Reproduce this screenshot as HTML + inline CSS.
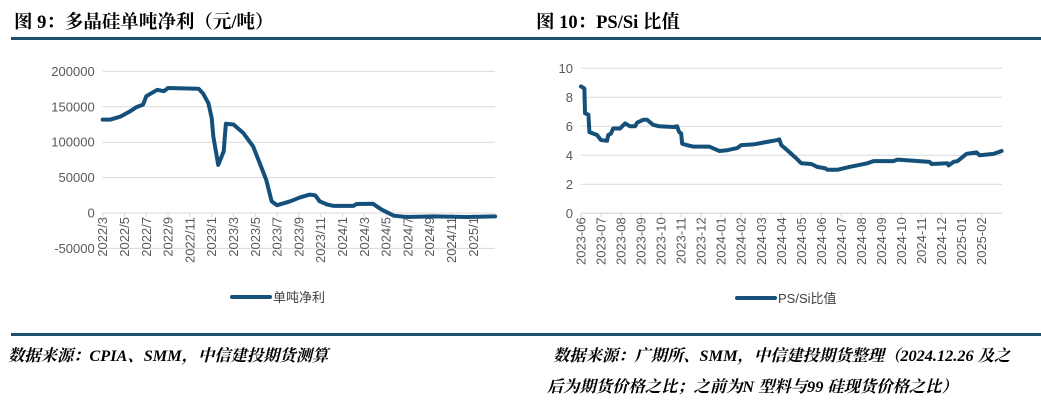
<!DOCTYPE html>
<html><head><meta charset="utf-8"><style>
body{margin:0;width:1041px;height:401px;background:#fff;overflow:hidden;position:relative;font-family:"Liberation Serif","Noto Serif CJK SC",serif}
.t{position:absolute;font-weight:bold;font-size:18.5px;color:#000;top:8px;white-space:nowrap}
.f{position:absolute;font-weight:bold;font-style:italic;font-size:16.3px;color:#000;white-space:nowrap}
.rule{position:absolute;left:11px;width:1030px;height:3px;background:#1d4f6c}
svg{position:absolute;left:0;top:0}
</style></head><body>
<div class="t" style="left:14px">图 9：多晶硅单吨净利（元/吨）</div>
<div class="t" style="left:536px">图 10：PS/Si 比值</div>
<div class="rule" style="top:37px"></div>
<div class="rule" style="top:333px"></div>
<div class="f" style="left:8px;top:342px">数据来源：CPIA、SMM，中信建投期货测算</div>
<div class="f" style="left:553px;top:342px">数据来源：广期所、SMM，中信建投期货整理（2024.12.26 及之</div>
<div class="f" style="left:547px;top:373px">后为期货价格之比；之前为N 型料与99 硅现货价格之比）</div>
<svg id="s" width="1041" height="401"></svg>
<script>
// Left chart data (month index from 2022/3)
const leftTicks=["2022/3","2022/5","2022/7","2022/9","2022/11","2023/1","2023/3","2023/5","2023/7","2023/9","2023/11","2024/1","2024/3","2024/5","2024/7","2024/9","2024/11","2025/1"];
const leftYTicks=[200000,150000,100000,50000,0,-50000];
const leftMonths=[0,0.67,1.6,2.5,3.1,3.7,4.0,5.0,5.6,6.0,8.8,9.2,9.7,10.0,10.15,10.6,11.1,11.3,12.0,12.9,13.8,14.4,15.0,15.5,16.0,17.2,18.1,19.0,19.5,19.9,20.6,21.2,23.0,23.3,24.8,25.6,26.7,27.9,30.3,33.4,36.0];
const leftValues=[131800,131800,136000,143500,149600,153000,165000,174000,172000,176500,175500,169000,155000,134000,108000,68000,87000,126000,125000,113000,94000,70600,47000,16500,11000,16500,22000,26000,25000,16500,12000,10000,10000,12700,13000,4700,-3800,-5600,-4700,-5600,-4700];
// Right chart data (month index from 2023-06)
const rightTicks=["2023-06","2023-07","2023-08","2023-09","2023-10","2023-11","2023-12","2024-01","2024-02","2024-03","2024-04","2024-05","2024-06","2024-07","2024-08","2024-09","2024-10","2024-11","2024-12","2025-01","2025-02"];
const rightYTicks=[10,8,6,4,2,0];
const rightMonths=[0,0.17,0.2,0.37,0.42,0.8,1.0,1.3,1.36,1.5,1.6,1.95,2.2,2.45,2.7,2.8,3.1,3.3,3.6,3.9,4.6,4.8,4.9,5.0,5.05,5.3,5.6,6.4,6.9,7.3,7.8,8.0,8.6,9.4,9.8,9.9,10.0,10.3,10.7,11.0,11.5,11.8,12.2,12.3,12.8,13.4,14.3,14.6,15.6,15.8,17.4,17.5,18.3,18.35,18.6,18.8,19.25,19.75,19.9,20.6,21.0];
const rightValues=[8.75,8.6,6.9,6.8,5.6,5.4,5.05,5.0,5.4,5.5,5.85,5.85,6.2,6.0,6.0,6.25,6.45,6.45,6.1,6.0,5.95,6.0,5.6,5.5,4.8,4.7,4.6,4.6,4.3,4.35,4.5,4.7,4.75,4.95,5.05,5.1,4.7,4.35,3.85,3.45,3.4,3.2,3.1,3.0,3.0,3.2,3.45,3.6,3.6,3.7,3.55,3.4,3.45,3.3,3.55,3.6,4.1,4.2,4.0,4.1,4.3];

const S=document.getElementById('s'),NS='http://www.w3.org/2000/svg';
function mk(t,a,txt){const e=document.createElementNS(NS,t);for(const k in a)e.setAttribute(k,a[k]);if(txt!==undefined)e.textContent=txt;S.appendChild(e);return e;}
function chart(o){
  const x=m=>o.x0+m*o.pxm, y=v=>o.y0+(o.ymax-v)*o.pxv;
  o.yTicks.forEach(v=>{
    const g=mk('line',{x1:o.x0,x2:o.x1,y1:y(v),y2:y(v),stroke:'#d9d9d9','stroke-width':1});
    
    
    const t=mk('text',{x:o.x0-8,y:y(v)+4.5,'text-anchor':'end','font-size':13,fill:'#595959','font-family':'Liberation Sans,sans-serif'},String(v));
    
    
  });
  const ax=mk('line',{x1:o.x0,x2:o.x1,y1:o.axisY,y2:o.axisY,stroke:'#d9d9d9','stroke-width':1});
  
  
  o.xTicks.forEach((l,i)=>{
    const xx=x(i*o.step);
    const tk=mk('line',{x1:xx,x2:xx,y1:o.axisY,y2:o.axisY+4,stroke:'#d9d9d9'});
    
    
    const t=mk('text',{transform:`translate(${xx+4.5},${o.axisY+4}) rotate(-90)`,'text-anchor':'end','font-size':13,fill:'#595959','font-family':'Liberation Sans,sans-serif'},l);
    
    
  });
  const p=mk('polyline',{points:o.m.map((m,i)=>x(m)+','+y(o.v[i])).join(' '),fill:'none',stroke:'#14507a','stroke-width':4,'stroke-linejoin':'round','stroke-linecap':'round'});
  
  
  const ll=mk('line',{x1:o.lx,x2:o.lx+38,y1:o.ly,y2:o.ly,stroke:'#14507a','stroke-width':4,'stroke-linecap':'round'});
  
  
  const lt=mk('text',{x:o.lx+41,y:o.ly+5,'font-size':13,fill:'#404040','font-family':'Liberation Sans,Noto Sans CJK SC,sans-serif'},o.name);
  
  
}
chart({x0:102.7,x1:495,pxm:10.9,y0:71.4,ymax:200000,pxv:141.6/200000,axisY:213,yTicks:leftYTicks,xTicks:leftTicks,step:2,m:leftMonths,v:leftValues,lx:232,ly:297,name:'单吨净利'});
chart({x0:581,x1:1002,pxm:20.03,y0:68.3,ymax:10,pxv:14.5,axisY:213.3,yTicks:rightYTicks,xTicks:rightTicks,step:1,m:rightMonths,v:rightValues,lx:737,ly:298,name:'PS/Si比值'});
</script>
</body></html>
